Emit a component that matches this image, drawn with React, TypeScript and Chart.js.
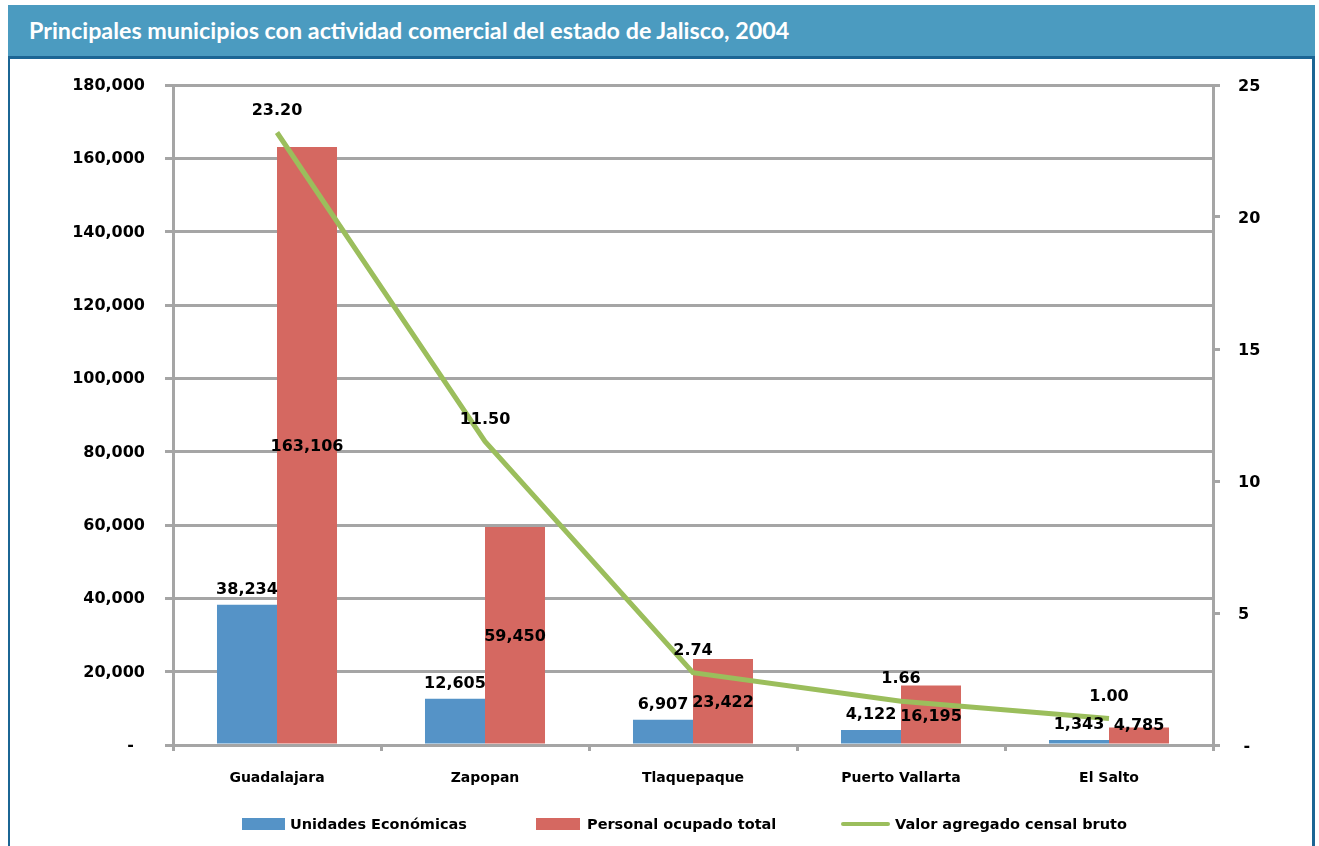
import React, { useEffect, useRef } from "react";
import { Chart, registerables } from "chart.js";

Chart.register(...registerables);

const categories = ["Guadalajara", "Zapopan", "Tlaquepaque", "Puerto Vallarta", "El Salto"];
const unidadesEconomicas = [38234, 12605, 6907, 4122, 1343];
const personalOcupado = [163106, 59450, 23422, 16195, 4785];
const valorAgregado = [23.2, 11.5, 2.74, 1.66, 1.0];
const seriesNames = ["Unidades Económicas", "Personal ocupado total", "Valor agregado censal bruto"];
const leftTicks = { min: 0, max: 180000, step: 20000 };
const rightTicks = { min: 0, max: 25, step: 5 };
const titleText = "Principales municipios con actividad comercial del estado de Jalisco, 2004";

const BLUE = "#5593C7";
const RED = "#D56861";
const GREEN = "#9BBE5C";
const GRID = "#A5A5A5";
const FONT = "DejaVu Sans";

const fmt = (v: number) => v.toLocaleString("en-US");

const labelsPlugin = {
  id: "valueLabels",
  afterDatasetsDraw(chart: any) {
    const ctx = chart.ctx;
    ctx.save();
    ctx.fillStyle = "#000";
    ctx.font = `bold 16px "${FONT}"`;
    ctx.textAlign = "center";
    const m0 = chart.getDatasetMeta(0);
    m0.data.forEach((el: any, i: number) => {
      ctx.textBaseline = "alphabetic";
      ctx.fillText(fmt(unidadesEconomicas[i]), el.x, el.y - 11);
    });
    const m1 = chart.getDatasetMeta(1);
    m1.data.forEach((el: any, i: number) => {
      ctx.textBaseline = "middle";
      const mid = (el.y + el.base) / 2 + 2;
      const y = Math.min(mid, el.base - 18);
      ctx.fillText(fmt(personalOcupado[i]), el.x, y);
    });
    const m2 = chart.getDatasetMeta(2);
    m2.data.forEach((el: any, i: number) => {
      ctx.textBaseline = "middle";
      ctx.fillText(valorAgregado[i].toFixed(2), el.x, el.y - 22);
    });
    ctx.restore();
  },
};

const legendPlugin = {
  id: "customLegend",
  afterDraw(chart: any) {
    const ctx = chart.ctx;
    ctx.save();
    ctx.font = `bold 14.5px "${FONT}"`;
    ctx.textBaseline = "middle";
    ctx.textAlign = "left";
    const y = 825;
    ctx.fillStyle = BLUE;
    ctx.fillRect(242, 818, 43, 12);
    ctx.fillStyle = "#000";
    ctx.fillText(seriesNames[0], 290, y);
    ctx.fillStyle = RED;
    ctx.fillRect(536, 818, 44, 12);
    ctx.fillStyle = "#000";
    ctx.fillText(seriesNames[1], 587, y);
    ctx.strokeStyle = GREEN;
    ctx.lineWidth = 4;
    ctx.lineCap = "round";
    ctx.beginPath();
    ctx.moveTo(843, 824);
    ctx.lineTo(888, 824);
    ctx.stroke();
    ctx.fillText(seriesNames[2], 895, y);
    ctx.restore();
  },
};

export default function App() {
  const ref = useRef<HTMLCanvasElement>(null);

  useEffect(() => {
    if (!ref.current) return;
    const chart = new Chart(ref.current, {
      type: "bar",
      data: {
        labels: categories,
        datasets: [
          {
            type: "bar",
            label: seriesNames[0],
            data: unidadesEconomicas,
            backgroundColor: BLUE,
            yAxisID: "y",
            categoryPercentage: 0.577,
            barPercentage: 1,
            order: 2,
          },
          {
            type: "bar",
            label: seriesNames[1],
            data: personalOcupado,
            backgroundColor: RED,
            yAxisID: "y",
            categoryPercentage: 0.577,
            barPercentage: 1,
            order: 2,
          },
          {
            type: "line",
            label: seriesNames[2],
            data: valorAgregado,
            borderColor: GREEN,
            backgroundColor: GREEN,
            borderWidth: 5,
            pointRadius: 0,
            tension: 0,
            yAxisID: "y1",
            order: 0,
          } as any,
        ],
      },
      options: {
        animation: false,
        responsive: false,
        maintainAspectRatio: false,
        layout: { padding: { top: 85, left: 0, right: 0, bottom: 0 } },
        plugins: {
          legend: { display: false },
          tooltip: { enabled: false },
          title: { display: false },
        },
        scales: {
          x: {
            offset: true,
            grid: { drawOnChartArea: false, offset: true, tickLength: 6, color: GRID, lineWidth: 3 },
            border: { color: GRID, width: 3 },
            ticks: { color: "#000", font: { family: FONT, size: 14, weight: "bold" }, padding: 19 },
            afterFit: (s: any) => { s.height = 101; },
          },
          y: {
            position: "left",
            min: leftTicks.min,
            max: leftTicks.max,
            ticks: {
              stepSize: leftTicks.step,
              color: "#000",
              font: { family: FONT, size: 16, weight: "bold" },
              padding: 20,
              labelOffset: 1,
              callback: (v: any) => (v === 0 ? "-  " : fmt(v)),
            },
            grid: { color: GRID, lineWidth: 3, tickLength: 8 },
            border: { color: GRID, width: 3 },
            afterFit: (s: any) => { s.width = 173; },
          },
          y1: {
            position: "right",
            min: rightTicks.min,
            max: rightTicks.max,
            ticks: {
              stepSize: rightTicks.step,
              color: "#000",
              font: { family: FONT, size: 16, weight: "bold" },
              padding: 18,
              labelOffset: 2,
              callback: (v: any) => (v === 0 ? " -" : String(v)),
            },
            grid: { drawOnChartArea: false, color: GRID, lineWidth: 3, tickLength: 7 },
            border: { color: GRID, width: 3 },
            afterFit: (s: any) => { s.width = 106; },
          },
        },
      } as any,
      plugins: [labelsPlugin, legendPlugin],
    });
    return () => chart.destroy();
  }, []);

  return (
    <div style={{ position: "fixed", left: 0, top: 0, width: 1319, height: 846, background: "#fff", overflow: "hidden" }}>
      <canvas ref={ref} width={1319} height={846} style={{ position: "absolute", left: 0, top: 0, width: 1319, height: 846 }} />
      <div style={{ position: "absolute", left: 8, top: 5, width: 1307, height: 51, background: "#4B9BC0" }}>
        <div style={{ position: "absolute", left: 21, top: 0, height: 51, lineHeight: "51px", color: "#fff", fontFamily: "Lato", fontWeight: 700, fontSize: 23.3, whiteSpace: "nowrap" }}>
          {titleText}
        </div>
      </div>
      <div style={{ position: "absolute", left: 8, top: 56, width: 1307, height: 3, background: "#1B6594" }} />
      <div style={{ position: "absolute", left: 8, top: 56, width: 2, height: 790, background: "#1B6594" }} />
      <div style={{ position: "absolute", left: 1312, top: 56, width: 3, height: 790, background: "#1B6594" }} />
    </div>
  );
}
